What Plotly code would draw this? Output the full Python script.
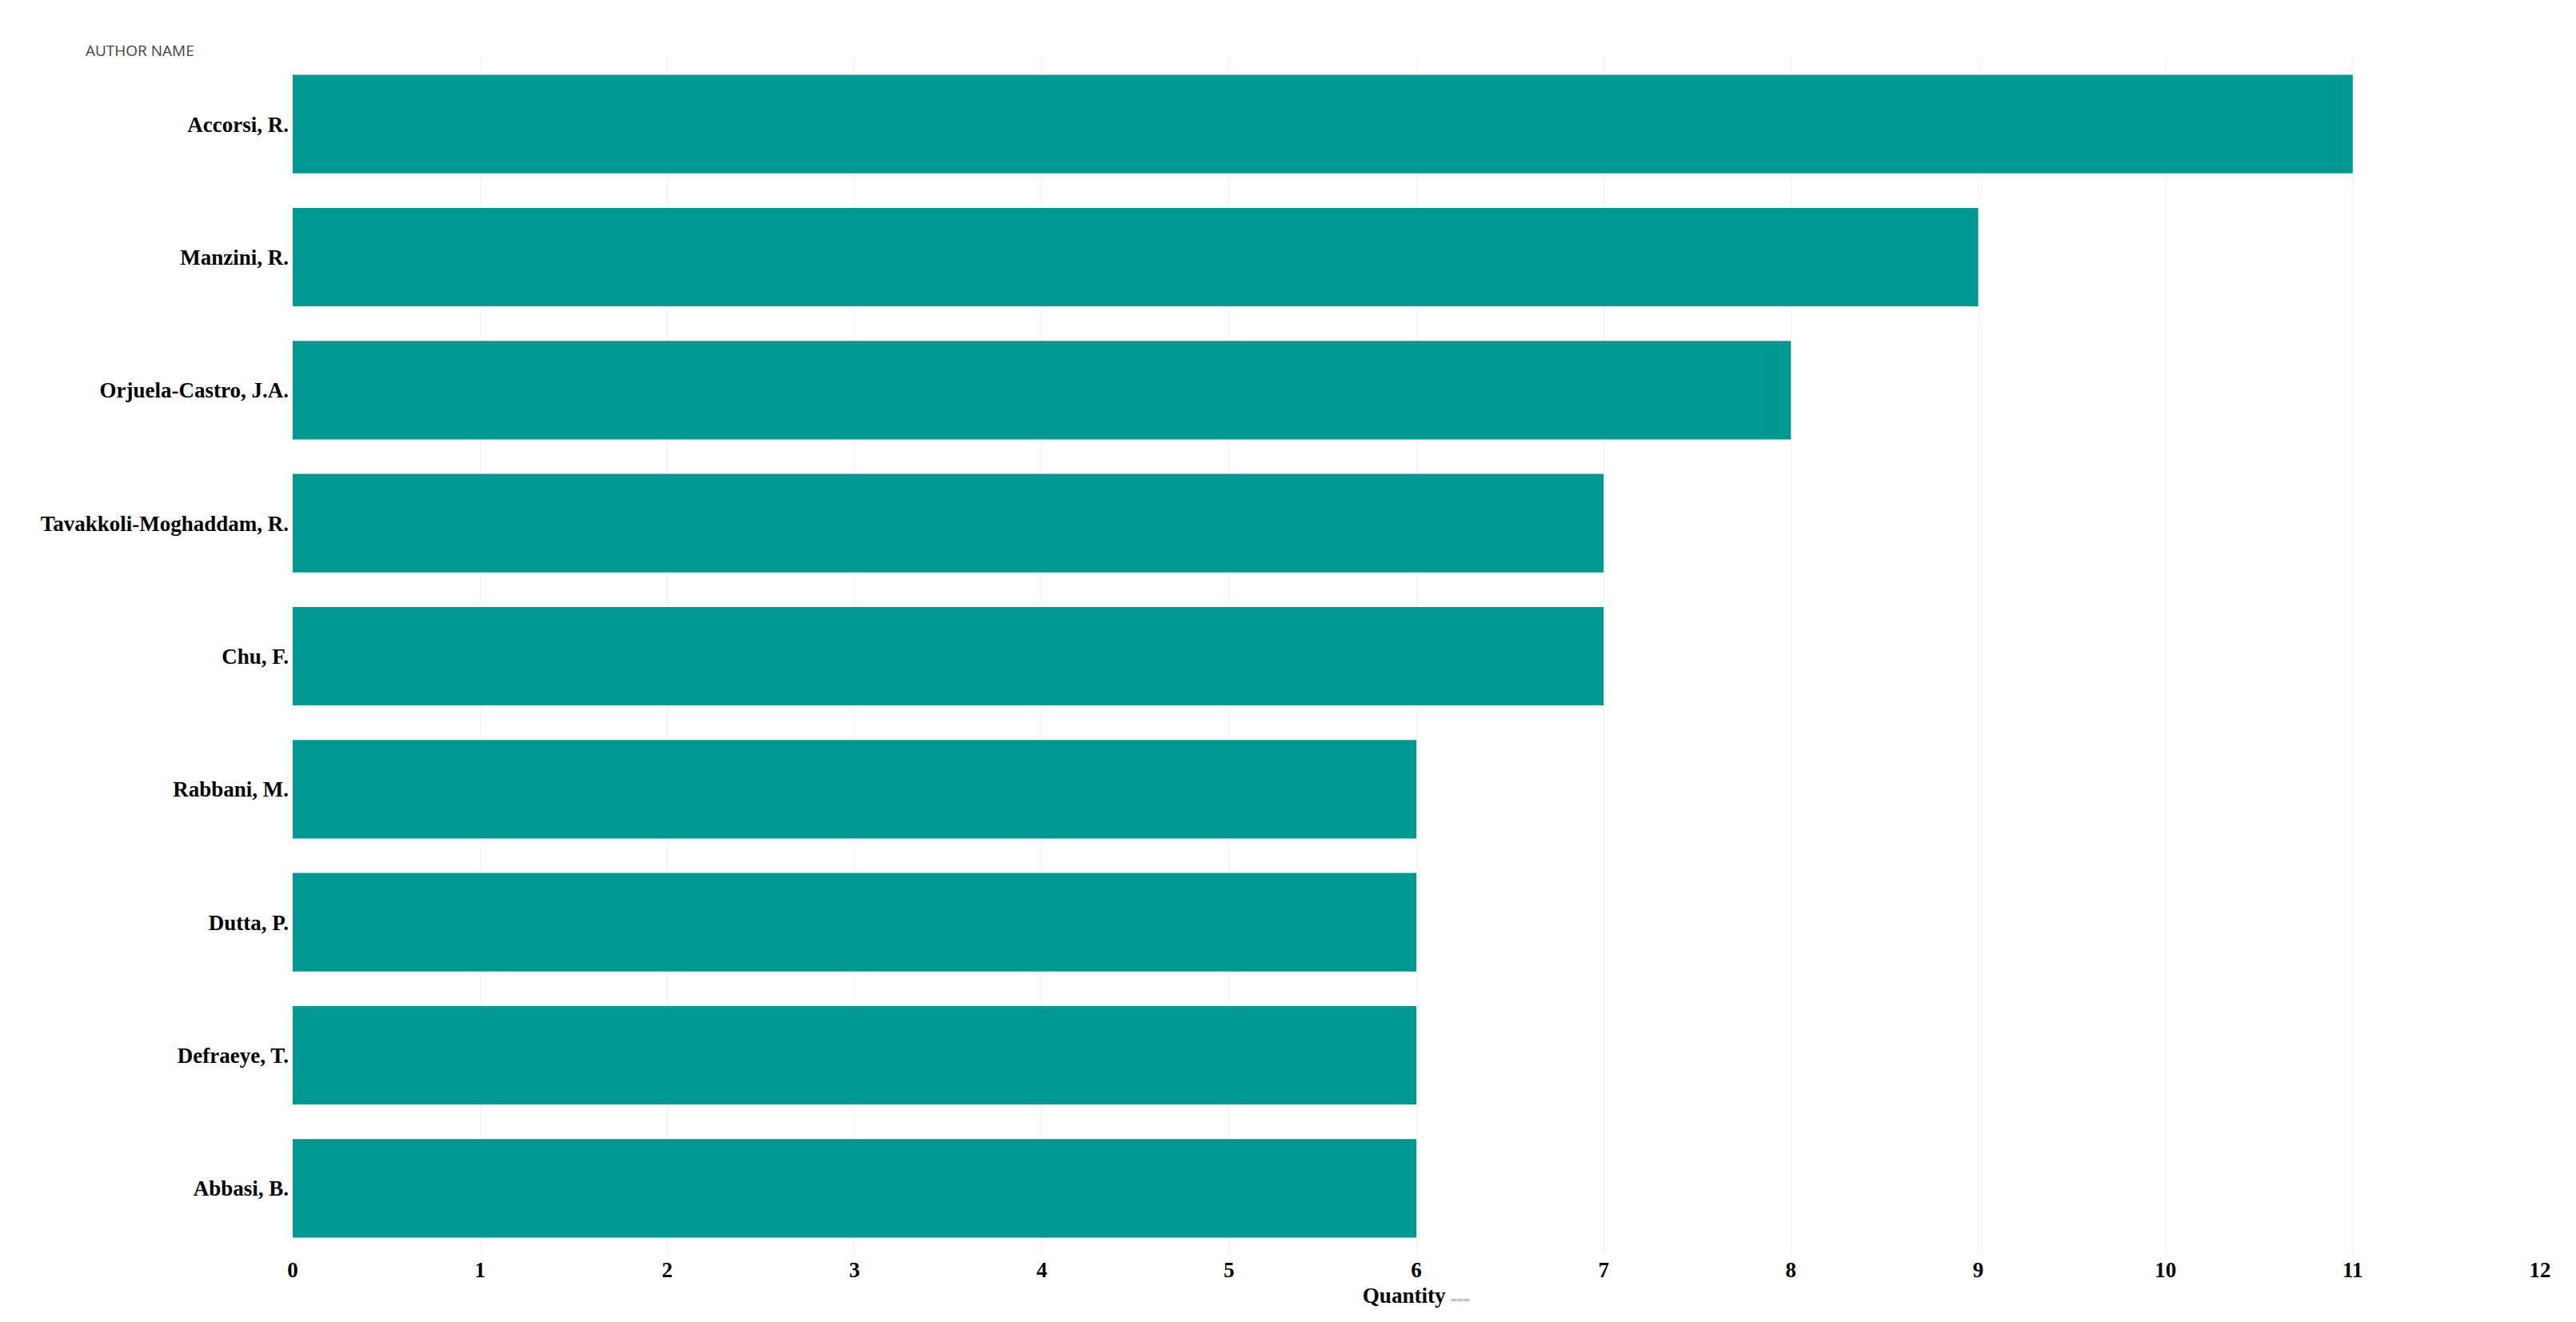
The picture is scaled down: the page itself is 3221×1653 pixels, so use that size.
import plotly.graph_objects as go

authors = ["Accorsi, R.", "Manzini, R.", "Orjuela-Castro, J.A.", "Tavakkoli-Moghaddam, R.",
           "Chu, F.", "Rabbani, M.", "Dutta, P.", "Defraeye, T.", "Abbasi, B."]
quantity = [11, 9, 8, 7, 7, 6, 6, 6, 6]
x_ticks = list(range(0, 13))

fig = go.Figure(go.Bar(
    x=quantity, y=authors, orientation="h",
    marker=dict(color="#009992", line=dict(width=0)), width=0.74,
))
fig.update_layout(
    width=3221, height=1653,
    margin=dict(l=358, r=53, t=64, b=92),
    plot_bgcolor="white", paper_bgcolor="white",
    showlegend=False,
    font=dict(family="Liberation Serif", color="black"),
    annotations=[dict(text="AUTHOR NAME", x=97, y=55, xref="paper", yref="paper",
                      showarrow=False, xanchor="left", yanchor="middle",
                      font=dict(family="Open Sans", size=19, color="#444"))],
)
# annotation uses pixel placement via paper conversion
fig.layout.annotations[0].x = (97 - 358) / (3221 - 358 - 53)
fig.layout.annotations[0].y = 1 + (64 - 55) / (1653 - 64 - 92)
fig.update_xaxes(range=[0, 12], tickvals=x_ticks, showgrid=True, gridcolor="#f2f2f2",
                 zeroline=False, showline=False, ticks="",
                 tickfont=dict(family="Liberation Serif", size=27, color="black", weight="bold"),
                 title=dict(text="<b>Quantity</b> <span style='font-size:14px;color:#999'>⩶</span>",
                            font=dict(family="Liberation Serif", size=27), standoff=8))
fig.update_yaxes(autorange="reversed", showgrid=False, ticks="", showline=False,
                 tickfont=dict(family="Liberation Serif", size=27, color="black", weight="bold"),
                 ticklabelstandoff=4)
fig.write_html("out.html")
